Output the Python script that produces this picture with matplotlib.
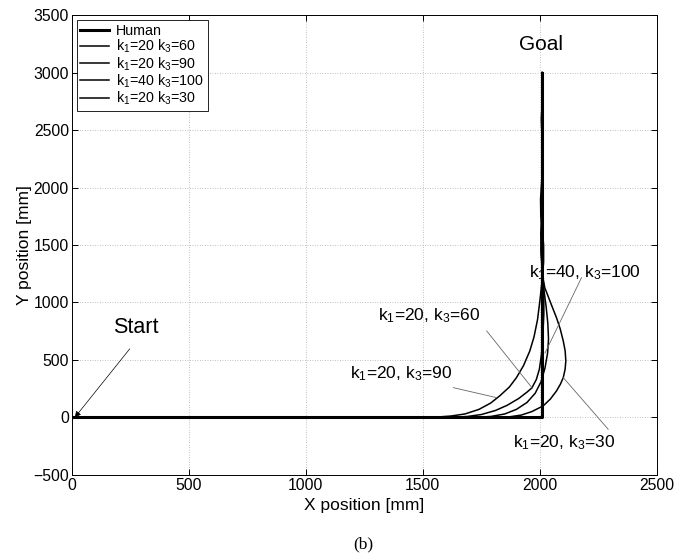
import matplotlib
matplotlib.use("Agg")
import matplotlib.pyplot as plt

plt.rcParams['font.family'] = ['Liberation Sans', 'DejaVu Sans']
plt.rcParams['mathtext.default'] = 'regular'

# ---- data (mm) ----
human_x = [0, 2010, 2010]
human_y = [0, 0, 3000]

k60_x = [0, 1620, 1690, 1750, 1810, 1860, 1910, 1945, 1966, 1985, 1998, 2007, 2013, 2017, 2017, 2013, 2007, 2004, 2009, 2013, 2009, 2011, 2010]
k60_y = [0, 0, 8, 25, 60, 105, 165, 220, 257, 330, 420, 550, 720, 900, 1050, 1200, 1400, 1600, 1850, 2150, 2450, 2750, 3000]

k90_x = [0, 1500, 1560, 1620, 1680, 1740, 1790, 1830, 1870, 1900, 1930, 1957, 1975, 1990, 2000, 2010, 2016, 2016, 2010, 2004, 2003, 2009, 2014, 2010, 2008, 2011, 2010]
k90_y = [0, 0, 3, 12, 30, 70, 125, 190, 265, 346, 450, 578, 700, 850, 1013, 1200, 1350, 1500, 1650, 1750, 1900, 2100, 2300, 2500, 2700, 2850, 3000]

k100_x = [0, 1720, 1790, 1850, 1900, 1945, 1980, 2005, 2022, 2033, 2037, 2034, 2027, 2018, 2012, 2006, 2008, 2013, 2010, 2007, 2011, 2010]
k100_y = [0, 0, 8, 30, 70, 130, 210, 310, 430, 560, 680, 820, 960, 1100, 1250, 1450, 1700, 2000, 2300, 2600, 2850, 3000]

k30_x = [0, 1820, 1870, 1920, 1965, 2014, 2045, 2071, 2088, 2100, 2108, 2111, 2108, 2100, 2087, 2071, 2057, 2043, 2021, 2010, 2005, 2009, 2013, 2010, 2007, 2011, 2010]
k30_y = [0, 0, 5, 20, 50, 100, 160, 230, 290, 346, 420, 491, 580, 665, 770, 868, 940, 1013, 1129, 1250, 1450, 1700, 2000, 2300, 2600, 2850, 3000]

legend_labels = ['Human', 'k$_1$=20 k$_3$=60', 'k$_1$=20 k$_3$=90',
                 'k$_1$=40 k$_3$=100', 'k$_1$=20 k$_3$=30']

fig = plt.figure(figsize=(6.9, 5.6), dpi=100)
ax = fig.add_axes([0.104, 0.152, 0.848, 0.821])

ax.plot(human_x, human_y, color='black', lw=2.2, label=legend_labels[0], zorder=5)
ax.plot(k60_x, k60_y, color='black', lw=1.1, label=legend_labels[1])
ax.plot(k90_x, k90_y, color='black', lw=1.1, label=legend_labels[2])
ax.plot(k100_x, k100_y, color='black', lw=1.1, label=legend_labels[3])
ax.plot(k30_x, k30_y, color='black', lw=1.1, label=legend_labels[4])

ax.set_xlim(0, 2500)
ax.set_ylim(-500, 3500)
ax.set_xticks(range(0, 2501, 500))
ax.set_yticks(range(-500, 3501, 500))
ax.set_xticklabels(['0', '500', '1000', '1500', '2000', '2500'])
ax.set_yticklabels(['\u2212500', '0', '500', '1000', '1500', '2000', '2500', '3000', '3500'])
ax.tick_params(direction='in', top=True, right=True, labelsize=11.3, length=4, width=0.7, pad=2)
ax.grid(True, linestyle=(0, (1, 2)), color='#aaaaaa', lw=0.6)
for s in ax.spines.values():
    s.set_linewidth(0.7)

ax.set_xlabel('X position [mm]', fontsize=12.5, labelpad=4)
ax.set_ylabel('Y position [mm]', fontsize=12.5, labelpad=1)

gray = '#666666'
# Start annotation
ax.annotate('', xy=(13, 0), xytext=(248, 597),
            arrowprops=dict(arrowstyle='-|>', color='black', lw=0.5, shrinkA=0, shrinkB=0,
                            mutation_scale=9))
ax.text(275, 785, 'Start', fontsize=15.5, ha='center', va='center')
ax.text(2007, 3247, 'Goal', fontsize=15, ha='center', va='center')

# curve labels
lab_fs = 12.5
ax.text(1953, 1259, 'k$_1$=40, k$_3$=100', fontsize=lab_fs, ha='left', va='center')
ax.text(1308, 883, 'k$_1$=20, k$_3$=60', fontsize=lab_fs, ha='left', va='center')
ax.text(1188, 378, 'k$_1$=20, k$_3$=90', fontsize=lab_fs, ha='left', va='center')
ax.text(1885, -219, 'k$_1$=20, k$_3$=30', fontsize=lab_fs, ha='left', va='center')

ax.plot([2178, 2022], [1216, 560], color=gray, lw=0.6)
ax.plot([1773, 1966], [752, 259], color=gray, lw=0.6)
ax.plot([1630, 1815], [259, 172], color=gray, lw=0.6)
ax.plot([2292, 2100], [-103, 346], color=gray, lw=0.6)

leg = ax.legend(loc='upper left', fontsize=10.3, handlelength=2.0, labelspacing=0.0,
                borderaxespad=0.35, borderpad=0.25, handletextpad=0.5, fancybox=False,
                framealpha=1, edgecolor='black')
leg.get_frame().set_linewidth(0.6)

fig.text(0.526, 0.027, '(b)', fontsize=12.5, ha='center', va='center', family='Liberation Serif')

fig.savefig('out.png', dpi=100)
